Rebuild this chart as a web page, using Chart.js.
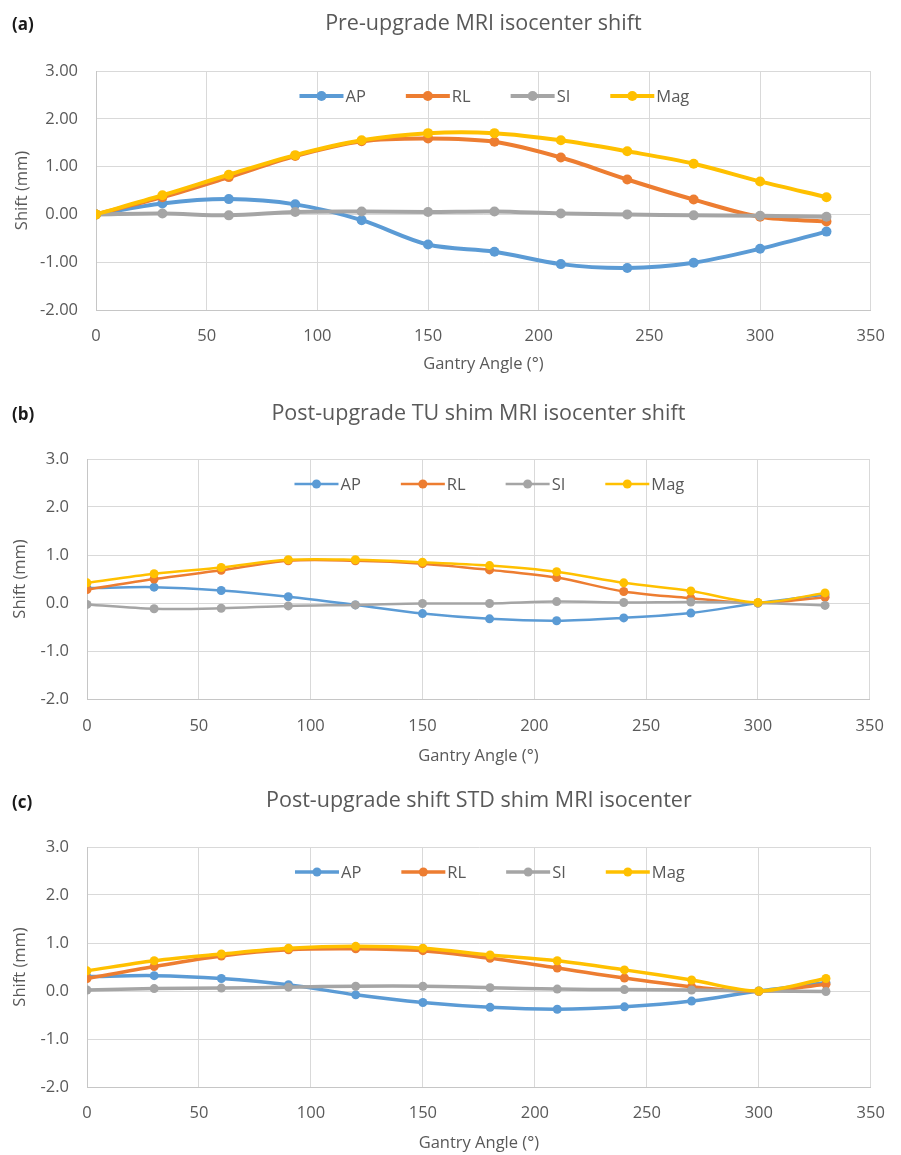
<!DOCTYPE html>
<html>
<head>
<meta charset="utf-8">
<title>MRI isocenter shift vs gantry angle</title>
<script src="https://cdn.jsdelivr.net/npm/chart.js@4.4.1/dist/chart.umd.min.js"></script>
<style>
  body { margin: 0; background: #fff; width: 901px; height: 1155px; position: relative; overflow: hidden; }
  .panel { position: absolute; left: 0; width: 901px; height: 385px; }
  .tag { position: absolute; left: 12px; font: bold 17px "Open Sans", sans-serif; color: #1a1a1a; transform: translateY(-50%); }
</style>
</head>
<body>
<div class="panel" style="top:0"><canvas id="chartA"></canvas></div>
<div class="panel" style="top:385px"><canvas id="chartB"></canvas></div>
<div class="panel" style="top:770px"><canvas id="chartC"></canvas></div>
<div class="tag" style="top:23px">(a)</div>
<div class="tag" style="top:413px">(b)</div>
<div class="tag" style="top:801px">(c)</div>

<script>
// ——— Gantry angles (°) shared by all three panels ———
const ANGLES = [0, 30, 60, 90, 120, 150, 180, 210, 240, 270, 300, 330];
const SERIES_NAMES = ["AP", "RL", "SI", "Mag"];

// (a) Pre-upgrade
const PRE_AP  = [0, 0.23, 0.32, 0.21, -0.12, -0.63, -0.78, -1.04, -1.12, -1.01, -0.72, -0.36];
const PRE_RL  = [0, 0.36, 0.78, 1.22, 1.53, 1.59, 1.52, 1.19, 0.73, 0.31, -0.05, -0.15];
const PRE_SI  = [0, 0.02, -0.02, 0.05, 0.06, 0.05, 0.06, 0.02, 0.00, -0.02, -0.03, -0.05];
const PRE_MAG = [0, 0.40, 0.83, 1.24, 1.55, 1.70, 1.70, 1.55, 1.32, 1.06, 0.69, 0.36];

// (b) Post-upgrade, TU shim
const TU_AP  = [0.31, 0.33, 0.26, 0.13, -0.04, -0.22, -0.33, -0.37, -0.31, -0.21, 0.00, 0.17];
const TU_RL  = [0.28, 0.50, 0.68, 0.88, 0.88, 0.82, 0.69, 0.53, 0.24, 0.10, 0.00, 0.12];
const TU_SI  = [-0.03, -0.12, -0.11, -0.06, -0.04, -0.01, -0.01, 0.03, 0.01, 0.02, 0.00, -0.05];
const TU_MAG = [0.42, 0.61, 0.74, 0.90, 0.90, 0.85, 0.78, 0.65, 0.42, 0.25, 0.01, 0.21];

// (c) Post-upgrade, STD shim
const STD_AP  = [0.30, 0.32, 0.26, 0.13, -0.08, -0.24, -0.34, -0.38, -0.33, -0.21, 0.00, 0.17];
const STD_RL  = [0.26, 0.51, 0.73, 0.86, 0.88, 0.84, 0.68, 0.48, 0.27, 0.09, -0.01, 0.14];
const STD_SI  = [0.02, 0.05, 0.06, 0.08, 0.10, 0.10, 0.07, 0.04, 0.03, 0.02, 0.00, -0.01];
const STD_MAG = [0.42, 0.63, 0.77, 0.89, 0.93, 0.89, 0.75, 0.63, 0.44, 0.23, 0.00, 0.26];

const X_MIN = 0, X_MAX = 350, X_STEP = 50;
const Y_MIN = -2, Y_MAX = 3, Y_STEP = 1;

const COLORS = ["#5B9BD5", "#ED7D31", "#A5A5A5", "#FFC000"];
const TEXT = "#595959";
const FONT = '"Open Sans", sans-serif';
const CANVAS_H = 385;
const AXIS_SIZE = 16.5;
const TITLE_SIZE = 21.5;

// layout of each panel (pixels inside its 385px block)
const PANELS = [
  { id: "chartA", title: "Pre-upgrade MRI isocenter shift", series: [PRE_AP, PRE_RL, PRE_SI, PRE_MAG],
    decimals: 2, left: 96, right: 883, top: 71, bottom: 310, titleY: 24, tickY: 336, xTitleY: 364, yTitleX: 22,
    lineWidth: 4, radius: 5 },
  { id: "chartB", title: "Post-upgrade TU shim MRI isocenter shift", series: [TU_AP, TU_RL, TU_SI, TU_MAG],
    decimals: 1, left: 87, right: 882, top: 74, bottom: 314, titleY: 29, tickY: 341, xTitleY: 371, yTitleX: 20,
    lineWidth: 2.5, radius: 4.5 },
  { id: "chartC", title: "Post-upgrade shift STD shim MRI isocenter", series: [STD_AP, STD_RL, STD_SI, STD_MAG],
    decimals: 1, left: 87, right: 882, top: 77, bottom: 317, titleY: 31, tickY: 343, xTitleY: 373, yTitleX: 20,
    lineWidth: 3.5, radius: 4.5 }
];

// Excel-style legend sitting inside the top of the plot area
const inlineLegend = {
  id: "inlineLegend",
  afterDraw(chart) {
    const ctx = chart.ctx;
    const area = chart.chartArea;
    const seg = 44, gap = 2, space = 40;
    ctx.save();
    ctx.font = `${AXIS_SIZE}px ${FONT}`;
    const items = chart.data.datasets.map(ds => ({ ds, w: seg + gap + ctx.measureText(ds.label).width }));
    const total = items.reduce((s, it) => s + it.w, 0) + space * (items.length - 1);
    let x = (area.left + area.right) / 2 - total / 2 + 11;
    const y = area.top + 25;
    items.forEach(({ ds, w }) => {
      ctx.strokeStyle = ds.borderColor;
      ctx.lineWidth = ds.borderWidth;
      ctx.beginPath();
      ctx.moveTo(x, y);
      ctx.lineTo(x + seg, y);
      ctx.stroke();
      ctx.fillStyle = ds.borderColor;
      ctx.beginPath();
      ctx.arc(x + seg / 2, y, ds.pointRadius, 0, Math.PI * 2);
      ctx.fill();
      ctx.fillStyle = TEXT;
      ctx.textBaseline = "middle";
      ctx.textAlign = "left";
      ctx.fillText(ds.label, x + seg + gap, y + 1);
      x += w + space;
    });
    ctx.restore();
  }
};

function buildChart(p) {
  const canvas = document.getElementById(p.id);
  const titleLine = TITLE_SIZE * 1.2;
  const titleTop = p.titleY - titleLine / 2;
  const axisLine = AXIS_SIZE * 1.2;

  const datasets = SERIES_NAMES.map((name, i) => ({
    label: name,
    data: ANGLES.map((a, k) => ({ x: a, y: p.series[i][k] })),
    borderColor: COLORS[i],
    backgroundColor: COLORS[i],
    pointBackgroundColor: COLORS[i],
    pointBorderColor: COLORS[i],
    pointBorderWidth: 0,
    pointRadius: p.radius,
    borderWidth: p.lineWidth,
    tension: 0.33,
    order: SERIES_NAMES.length - 1 - i, // Mag painted last, like Excel
    fill: false
  }));

  return new Chart(canvas.getContext("2d"), {
    type: "line",
    data: { datasets },
    options: {
      responsive: true,
      maintainAspectRatio: false,
      animation: false,
      layout: { padding: { left: 0, right: 901 - p.right, top: 0, bottom: 0 } },
      plugins: {
        legend: { display: false },
        tooltip: { enabled: false },
        title: {
          display: true,
          text: p.title,
          fullSize: false,
          color: TEXT,
          font: { family: FONT, size: TITLE_SIZE, weight: "normal", lineHeight: 1.2 },
          padding: { top: titleTop, bottom: p.top - titleTop - titleLine }
        }
      },
      scales: {
        x: {
          type: "linear",
          min: X_MIN,
          max: X_MAX,
          afterFit(scale) { scale.height = CANVAS_H - p.bottom; },
          ticks: {
            stepSize: X_STEP,
            color: TEXT,
            padding: p.tickY - p.bottom - axisLine / 2,
            maxRotation: 0,
            font: { family: FONT, size: AXIS_SIZE, lineHeight: 1.2 }
          },
          grid: { color: "#d9d9d9", lineWidth: 1, drawTicks: false },
          border: { color: "#c6c6c6" },
          title: {
            display: true,
            text: "Gantry Angle (°)",
            color: TEXT,
            font: { family: FONT, size: AXIS_SIZE, lineHeight: 1.2 },
            padding: { top: 0, bottom: CANVAS_H - p.xTitleY - axisLine / 2 }
          }
        },
        y: {
          min: Y_MIN,
          max: Y_MAX,
          afterFit(scale) { scale.width = p.left; },
          ticks: {
            stepSize: Y_STEP,
            color: TEXT,
            padding: 18,
            font: { family: FONT, size: AXIS_SIZE },
            callback: v => Number(v).toFixed(p.decimals)
          },
          grid: { color: "#d9d9d9", lineWidth: 1, drawTicks: false },
          border: { color: "#c6c6c6" },
          title: {
            display: true,
            text: "Shift (mm)",
            color: TEXT,
            font: { family: FONT, size: AXIS_SIZE, lineHeight: 1.2 },
            padding: { top: p.yTitleX - axisLine / 2, bottom: 0 }
          }
        }
      }
    },
    plugins: [inlineLegend]
  });
}

PANELS.forEach(buildChart);
</script>
</body>
</html>
